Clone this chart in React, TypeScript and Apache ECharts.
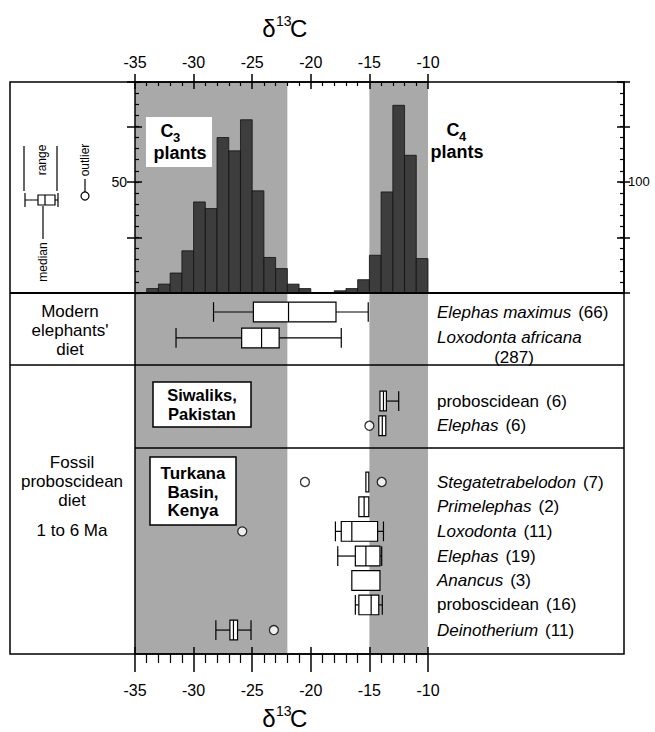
import React, { useEffect, useRef } from "react";
import * as echarts from "echarts";

const FONT = "'Liberation Sans', Arial, Helvetica, sans-serif";

// δ13C axis
const xMin = -35;
const xMax = -10;
const xStep = 5;

// Plant δ13C histogram, 1 per-mil bins (bin start, count)
const c3BinStart = [-34, -33, -32, -31, -30, -29, -28, -27, -26, -25, -24, -23, -22, -21];
const c3Count = [2, 4, 9, 19, 41, 38, 70, 64, 78, 46, 16, 11, 4, 2];
const c4BinStart = [-18, -17, -16, -15, -14, -13, -12, -11];
const c4Count = [2, 4, 12, 34, 91, 169, 124, 31];
const leftCountMax = 95;
const rightCountMax = 190;

// Shaded zones (C3 and C4 plant ranges)
const zoneStart = [-35, -15];
const zoneEnd = [-22, -10];

// Box plots
const taxa = [
  "Elephas maximus",
  "Loxodonta africana",
  "proboscidean",
  "Elephas",
  "Stegatetrabelodon",
  "Primelephas",
  "Loxodonta",
  "Elephas",
  "Anancus",
  "proboscidean",
  "Deinotherium",
];
const sampleN = [66, 287, 6, 6, 7, 2, 11, 19, 3, 16, 11];
const italicName = [true, true, false, true, true, true, true, true, true, false, true];
const boxRow = [0.77, 1.82, 4.38, 5.38, 7.66, 8.66, 9.66, 10.66, 11.65, 12.64, 13.66];
const whiskerLow = [-28.3, -31.5, null, null, null, null, -17.9, -17.7, null, -16.2, -28.1];
const q1 = [-24.9, -25.9, -14.1, -14.2, -15.3, -15.9, -17.4, -16.2, -16.5, -15.9, -26.9];
const median = [-21.9, -24.2, -13.8, -13.9, null, -15.45, -16.5, -15.3, null, -14.85, -26.6];
const q3 = [-17.85, -22.7, -13.55, -13.6, -15.05, -15.05, -14.3, -14.1, -14.1, -14.2, -26.25];
const whiskerHigh = [-15.1, -17.4, -12.5, null, null, null, -13.8, -13.95, null, -13.9, -25.1];
const rowMax = 14.63;

// Outliers [δ13C, row]
const outlierX = [-15.0, -20.5, -13.95, -25.85, -23.15];
const outlierRow = [5.38, 7.66, 7.66, 9.66, 13.66];

const BOX_L = 10;
const BOX_R = 624;
const TOP = 82;
const HIST_B = 293;
const ROW1_B = 365;
const ROW2_B = 448;
const BOT = 654;
const PLOT_L = 135;
const PLOT_W = 293;

const black = "#000";

function txt(x: number, y: number, text: string, opts: any = {}) {
  return {
    type: "text",
    x,
    y,
    z: 20,
    rotation: opts.rotation || 0,
    style: {
      text,
      fontSize: opts.fontSize || 16,
      fontFamily: FONT,
      fontWeight: opts.fontWeight || "normal",
      fontStyle: opts.fontStyle || "normal",
      fill: black,
      align: opts.align || "center",
      verticalAlign: "middle",
    },
  };
}
function ln(x1: number, y1: number, x2: number, y2: number, w = 1.5) {
  return {
    type: "line",
    z: 20,
    shape: { x1, y1, x2, y2 },
    style: { stroke: black, lineWidth: w },
  };
}

function buildOption(): any {
  const xCommon = {
    type: "value",
    min: xMin,
    max: xMax,
    interval: xStep,
    splitLine: { show: false },
    z: 5,
  };
  const yHidden = { splitLine: { show: false }, z: 5 };

  const xAxis = [
    {
      ...xCommon,
      gridIndex: 0,
      position: "top",
      axisLine: { show: true, onZero: false, lineStyle: { color: black, width: 1.5 } },
      axisTick: { show: true, inside: false, length: 8, lineStyle: { color: black, width: 1.5 } },
      axisLabel: { show: true, margin: 12, fontSize: 16, color: black, fontFamily: FONT },
    },
    {
      ...xCommon,
      gridIndex: 0,
      position: "top",
      axisLine: { show: false, onZero: false },
      axisTick: { show: true, inside: true, length: 7, lineStyle: { color: black, width: 1.5 } },
      minorTick: { show: true, splitNumber: 5, length: 4, lineStyle: { color: black, width: 1.2 } },
      axisLabel: { show: false },
    },
    {
      ...xCommon,
      gridIndex: 1,
      position: "bottom",
      axisLine: { show: true, onZero: false, lineStyle: { color: black, width: 1.5 } },
      axisTick: { show: true, inside: false, length: 18, lineStyle: { color: black, width: 1.5 } },
      minorTick: { show: true, splitNumber: 5, length: 9, lineStyle: { color: black, width: 1.2 } },
      axisLabel: { show: true, margin: 28, fontSize: 16, color: black, fontFamily: FONT },
    },
    {
      ...xCommon,
      gridIndex: 1,
      position: "bottom",
      axisLine: { show: false, onZero: false },
      axisTick: { show: true, inside: true, length: 7, lineStyle: { color: black, width: 1.5 } },
      axisLabel: { show: false },
    },
  ];

  const yAxis = [
    {
      ...yHidden,
      type: "value",
      gridIndex: 0,
      position: "left",
      min: 0,
      max: leftCountMax,
      interval: 25,
      axisLine: { show: true, onZero: false, lineStyle: { color: black, width: 1.5 } },
      axisTick: { show: true, inside: false, length: 8, lineStyle: { color: black, width: 1.5 } },
      axisLabel: {
        show: true,
        margin: 8,
        fontSize: 14,
        color: black,
        fontFamily: FONT,
        formatter: (v: number) => (v === 50 ? "50" : ""),
      },
    },
    {
      ...yHidden,
      type: "value",
      gridIndex: 0,
      position: "left",
      min: 0,
      max: leftCountMax,
      interval: 25,
      axisLine: { show: false, onZero: false },
      axisTick: { show: true, inside: true, length: 7, lineStyle: { color: black, width: 1.5 } },
      axisLabel: { show: false },
    },
    {
      ...yHidden,
      type: "value",
      gridIndex: 0,
      position: "left",
      min: 0,
      max: leftCountMax,
      interval: 5,
      axisLine: { show: false, onZero: false },
      axisTick: { show: true, inside: true, length: 4, lineStyle: { color: black, width: 1.2 } },
      axisLabel: { show: false },
    },
    {
      ...yHidden,
      type: "value",
      gridIndex: 0,
      position: "right",
      offset: BOX_R - (PLOT_L + PLOT_W),
      min: 0,
      max: rightCountMax,
      interval: 50,
      axisLine: { show: true, onZero: false, lineStyle: { color: black, width: 1.5 } },
      axisTick: { show: true, inside: false, length: 6, lineStyle: { color: black, width: 1.5 } },
      axisLabel: {
        show: true,
        margin: 4,
        fontSize: 13,
        color: black,
        fontFamily: FONT,
        formatter: (v: number) => (v === 100 ? "100" : ""),
      },
    },
    {
      ...yHidden,
      type: "value",
      gridIndex: 0,
      position: "right",
      offset: BOX_R - (PLOT_L + PLOT_W),
      min: 0,
      max: rightCountMax,
      interval: 50,
      axisLine: { show: false, onZero: false },
      axisTick: { show: true, inside: true, length: 7, lineStyle: { color: black, width: 1.5 } },
      axisLabel: { show: false },
    },
    {
      ...yHidden,
      type: "value",
      gridIndex: 0,
      position: "right",
      offset: BOX_R - (PLOT_L + PLOT_W),
      min: 0,
      max: rightCountMax,
      interval: 10,
      axisLine: { show: false, onZero: false },
      axisTick: { show: true, inside: true, length: 4, lineStyle: { color: black, width: 1.2 } },
      axisLabel: { show: false },
    },
    {
      ...yHidden,
      type: "value",
      gridIndex: 1,
      position: "left",
      min: 0,
      max: rowMax,
      inverse: true,
      axisLine: { show: true, onZero: false, lineStyle: { color: black, width: 1.5 } },
      axisTick: { show: false },
      axisLabel: { show: false },
    },
  ];

  const shadeRender = (params: any, api: any) => {
    const a = api.coord([api.value(0), 0]);
    const b = api.coord([api.value(1), 0]);
    const cs = params.coordSys;
    return {
      type: "rect",
      shape: { x: a[0], y: cs.y, width: b[0] - a[0], height: cs.height },
      style: { fill: "#a9a9a9" },
    };
  };
  const zoneData = zoneStart.map((s, i) => [s, zoneEnd[i]]);

  const histRender = (params: any, api: any) => {
    const x0 = api.value(0);
    const v = api.value(1);
    const p0 = api.coord([x0, v]);
    const p1 = api.coord([x0 + 1, 0]);
    return {
      type: "rect",
      shape: { x: p0[0], y: p0[1], width: p1[0] - p0[0], height: p1[1] - p0[1] },
      style: { fill: "#3d3d3d", stroke: "#111", lineWidth: 0.8 },
    };
  };

  const boxRender = (params: any, api: any) => {
    const i = params.dataIndex;
    const row = boxRow[i];
    const X = (v: number) => api.coord([v, row])[0];
    const y = api.coord([q1[i], row])[1];
    const h = api.size([0, 0.8])[1];
    const st = { stroke: black, lineWidth: 1.2 };
    const children: any[] = [];
    const wl = whiskerLow[i];
    const wh = whiskerHigh[i];
    if (wl != null) {
      children.push({ type: "line", shape: { x1: X(wl), y1: y, x2: X(q1[i]), y2: y }, style: st });
      children.push({ type: "line", shape: { x1: X(wl), y1: y - h / 2, x2: X(wl), y2: y + h / 2 }, style: st });
    }
    if (wh != null) {
      children.push({ type: "line", shape: { x1: X(q3[i]), y1: y, x2: X(wh), y2: y }, style: st });
      children.push({ type: "line", shape: { x1: X(wh), y1: y - h / 2, x2: X(wh), y2: y + h / 2 }, style: st });
    }
    children.push({
      type: "rect",
      shape: { x: X(q1[i]), y: y - h / 2, width: X(q3[i]) - X(q1[i]), height: h },
      style: { fill: "#fff", stroke: black, lineWidth: 1.2 },
    });
    const m = median[i];
    if (m != null) {
      children.push({ type: "line", shape: { x1: X(m), y1: y - h / 2, x2: X(m), y2: y + h / 2 }, style: st });
    }
    const cs = params.coordSys;
    const lx = cs.x + cs.width + 9;
    const nameTok = italicName[i] ? "i" : "r";
    const wrap = taxa[i].length > 17;
    children.push({
      type: "text",
      x: lx,
      y: y,
      style: {
        text: wrap ? `{${nameTok}|${taxa[i]}}` : `{${nameTok}|${taxa[i]}}{n|(${sampleN[i]})}`,
        fill: black,
        align: "left",
        verticalAlign: "middle",
        fontSize: 17,
        fontFamily: FONT,
        rich: {
          i: { fontStyle: "italic", fontSize: 17, fontFamily: FONT, fill: black },
          r: { fontSize: 17, fontFamily: FONT, fill: black },
          n: { fontSize: 17, fontFamily: FONT, fill: black, padding: [0, 0, 0, 7] },
        },
      },
    });
    if (wrap) {
      children.push({
        type: "text",
        x: lx + 77,
        y: y + 20,
        style: {
          text: `(${sampleN[i]})`,
          fill: black,
          align: "center",
          verticalAlign: "middle",
          fontSize: 17,
          fontFamily: FONT,
        },
      });
    }
    return { type: "group", children };
  };

  const series: any[] = [
    {
      type: "custom",
      name: "shadeTop",
      xAxisIndex: 0,
      yAxisIndex: 0,
      z: 1,
      silent: true,
      data: zoneData,
      renderItem: shadeRender,
    },
    {
      type: "custom",
      name: "shadeBottom",
      xAxisIndex: 2,
      yAxisIndex: 6,
      z: 1,
      silent: true,
      data: zoneData,
      renderItem: shadeRender,
    },
    {
      type: "custom",
      name: "C3 histogram",
      xAxisIndex: 0,
      yAxisIndex: 0,
      z: 2,
      data: c3BinStart.map((b, i) => [b, c3Count[i]]),
      renderItem: histRender,
    },
    {
      type: "custom",
      name: "C4 histogram",
      xAxisIndex: 0,
      yAxisIndex: 3,
      z: 2,
      data: c4BinStart.map((b, i) => [b, c4Count[i]]),
      renderItem: histRender,
    },
    {
      type: "custom",
      name: "boxes",
      xAxisIndex: 2,
      yAxisIndex: 6,
      z: 3,
      data: q1.map((v, i) => [v, boxRow[i], q3[i]]),
      renderItem: boxRender,
    },
    {
      type: "scatter",
      name: "outliers",
      xAxisIndex: 2,
      yAxisIndex: 6,
      z: 4,
      symbol: "circle",
      symbolSize: 9,
      itemStyle: { color: "#fff", borderColor: black, borderWidth: 1.3 },
      data: outlierX.map((x, i) => [x, outlierRow[i]]),
    },
  ];

  const graphic: any[] = [
    // outer frame and dividers
    {
      type: "rect",
      z: 20,
      shape: { x: BOX_L, y: TOP, width: BOX_R - BOX_L, height: BOT - TOP },
      style: { fill: "none", stroke: black, lineWidth: 1.5 },
    },
    ln(BOX_L, HIST_B, BOX_R, HIST_B, 2.2),
    ln(BOX_L, ROW1_B, BOX_R, ROW1_B, 1.5),
    ln(PLOT_L, ROW2_B, BOX_R, ROW2_B, 1.5),
    // titles
    txt(269, 28, "δ", { fontSize: 24 }),
    txt(276, 21, "13", { fontSize: 14, align: "left" }),
    txt(290, 28, "C", { fontSize: 24, align: "left" }),
    txt(269, 718, "δ", { fontSize: 24 }),
    txt(276, 711, "13", { fontSize: 14, align: "left" }),
    txt(290, 718, "C", { fontSize: 24, align: "left" }),
    // C3 / C4 labels
    {
      type: "rect",
      z: 15,
      shape: { x: 146, y: 117, width: 66, height: 50 },
      style: { fill: "#fff" },
    },
    txt(167, 131, "C", { fontSize: 18, fontWeight: "bold" }),
    txt(173, 137, "3", { fontSize: 13, fontWeight: "bold", align: "left" }),
    txt(180, 153, "plants", { fontSize: 18, fontWeight: "bold" }),
    txt(453, 130, "C", { fontSize: 18, fontWeight: "bold" }),
    txt(459, 136, "4", { fontSize: 13, fontWeight: "bold", align: "left" }),
    txt(457, 152, "plants", { fontSize: 18, fontWeight: "bold" }),
    // Siwaliks box
    {
      type: "rect",
      z: 15,
      shape: { x: 153, y: 382, width: 98, height: 45 },
      style: { fill: "#fff", stroke: black, lineWidth: 1.5 },
    },
    txt(202, 395, "Siwaliks,", { fontSize: 16.5, fontWeight: "bold" }),
    txt(202, 414, "Pakistan", { fontSize: 16.5, fontWeight: "bold" }),
    // Turkana box
    {
      type: "rect",
      z: 15,
      shape: { x: 150, y: 457, width: 86, height: 68 },
      style: { fill: "#fff", stroke: black, lineWidth: 1.5 },
    },
    txt(193, 473, "Turkana", { fontSize: 17, fontWeight: "bold" }),
    txt(193, 492, "Basin,", { fontSize: 17, fontWeight: "bold" }),
    txt(193, 510, "Kenya", { fontSize: 17, fontWeight: "bold" }),
    // left row labels
    txt(70, 311, "Modern", { fontSize: 17 }),
    txt(70, 330, "elephants'", { fontSize: 17 }),
    txt(70, 349, "diet", { fontSize: 17 }),
    txt(72, 462, "Fossil", { fontSize: 17 }),
    txt(72, 481, "proboscidean", { fontSize: 17 }),
    txt(72, 500, "diet", { fontSize: 17 }),
    txt(72, 530, "1 to 6 Ma", { fontSize: 17 }),
    // box-plot key
    ln(25, 200, 58, 200, 1.2),
    ln(25, 193, 25, 207, 1.2),
    ln(58, 193, 58, 207, 1.2),
    {
      type: "rect",
      z: 20,
      shape: { x: 38, y: 195, width: 17, height: 10 },
      style: { fill: "#fff", stroke: black, lineWidth: 1.2 },
    },
    ln(45, 195, 45, 205, 1.2),
    ln(24, 146, 24, 191, 1.2),
    ln(57, 146, 57, 191, 1.2),
    txt(42, 160, "range", { fontSize: 12, rotation: Math.PI / 2 }),
    ln(43, 206, 43, 239, 1.2),
    txt(43, 262, "median", { fontSize: 12, rotation: Math.PI / 2 }),
    {
      type: "circle",
      z: 20,
      shape: { cx: 85, cy: 196, r: 4 },
      style: { fill: "#fff", stroke: black, lineWidth: 1.2 },
    },
    ln(85, 179, 85, 192, 1.2),
    txt(85, 160, "outlier", { fontSize: 12, rotation: Math.PI / 2 }),
  ];

  return {
    animation: false,
    backgroundColor: "#fff",
    textStyle: { fontFamily: FONT },
    grid: [
      { left: PLOT_L, top: TOP, width: PLOT_W, height: HIST_B - TOP, outerBoundsMode: "none", containLabel: false },
      { left: PLOT_L, top: HIST_B, width: PLOT_W, height: BOT - HIST_B, outerBoundsMode: "none", containLabel: false },
    ],
    xAxis,
    yAxis,
    series,
    graphic,
  };
}

export default function App() {
  const ref = useRef<HTMLDivElement>(null);
  useEffect(() => {
    if (!ref.current) return;
    const chart = echarts.init(ref.current, undefined, { renderer: "svg" });
    chart.setOption(buildOption());
    return () => chart.dispose();
  }, []);
  return (
    <div
      ref={ref}
      style={{ position: "absolute", left: 0, top: 0, width: 655, height: 732, background: "#fff" }}
    />
  );
}
